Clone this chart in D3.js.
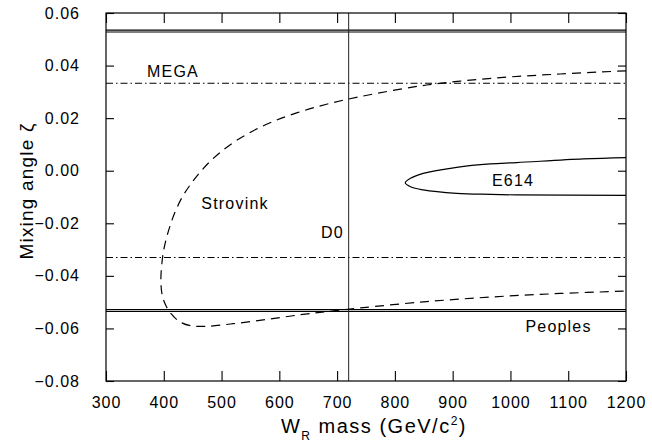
<!DOCTYPE html>
<html lang="en">
	<head>
		<meta charset="utf-8">
		<title>Mixing angle vs W_R mass</title>
		<script type="text/javascript" src="https://cdn.jsdelivr.net/npm/d3@7/dist/d3.min.js"></script>
		<style type="text/css">
			body { margin: 0; background: white; }
			text { font-family: "Liberation Sans", Arial, sans-serif; fill: black; }
		</style>
	</head>
	<body>
		<script type="text/javascript">

			//Data
			var xTicks = [300, 400, 500, 600, 700, 800, 900, 1000, 1100, 1200];
			var yTicks = [0.06, 0.04, 0.02, 0.00, -0.02, -0.04, -0.06, -0.08];

			//Strovink (dashed contour)
			var strovinkMass = [1200, 1086, 970, 855, 740, 680, 630, 590, 555, 525, 500, 480, 463, 447, 432, 419, 408, 400, 396, 395, 397, 403, 413, 428, 447, 474, 520, 578, 636, 682, 740, 855, 970, 1086, 1200];
			var strovinkZeta = [0.0380, 0.0368, 0.0352, 0.0326, 0.0282, 0.0252, 0.0220, 0.0188, 0.0152, 0.0114, 0.0074, 0.0035, -0.0005, -0.0050, -0.0100, -0.0160, -0.0230, -0.0300, -0.0370, -0.0420, -0.0470, -0.0510, -0.0545, -0.0575, -0.0590, -0.0592, -0.0582, -0.0566, -0.0548, -0.0536, -0.0522, -0.0498, -0.0480, -0.0467, -0.0458];

			//E614 (solid contour)
			var e614Mass = [1200, 1126, 1011, 965, 907, 849, 827, 818, 827, 849, 907, 965, 1011, 1200];
			var e614Zeta = [0.0050, 0.0045, 0.0031, 0.0026, 0.0013, -0.0010, -0.0029, -0.0046, -0.0061, -0.0073, -0.0086, -0.0090, -0.0092, -0.0094];

			//horizontal limits
			var megaZeta = [0.0333, -0.0330];
			var peoplesZeta = [0.0528, 0.0535, -0.0528, -0.0535];
			var d0Mass = 720;

			//labels
			var labels = [
				{text: "MEGA", mass: 371, zeta: 0.0358},
				{text: "Strovink", mass: 465, zeta: -0.0146},
				{text: "D0", mass: 672, zeta: -0.0256},
				{text: "E614", mass: 968, zeta: -0.0058},
				{text: "Peoples", mass: 1026, zeta: -0.0612}
			];

			//Width and height
			var w = 652;
			var h = 445;
			var margin = {left: 106, top: 13, right: 26, bottom: 64};
			var pw = w - margin.left - margin.right;
			var ph = h - margin.top - margin.bottom;

			//Scales
			var x = d3.scaleLinear().domain([300, 1200]).range([0, pw]);
			var y = d3.scaleLinear().domain([-0.08, 0.06]).range([ph, 0]);

			//Create SVG element
			var svg = d3.select("body")
						.append("svg")
						.attr("width", w)
						.attr("height", h);

			var g = svg.append("g")
						.attr("transform", "translate(" + margin.left + "," + margin.top + ")");

			g.append("clipPath")
				.attr("id", "clip")
				.append("rect")
				.attr("width", pw)
				.attr("height", ph);

			var plot = g.append("g").attr("clip-path", "url(#clip)");

			//Peoples lines
			plot.selectAll(".peoples")
				.data(peoplesZeta)
				.enter()
				.append("line")
				.attr("class", "peoples")
				.attr("x1", 0)
				.attr("x2", pw)
				.attr("y1", function(d) { return y(d); })
				.attr("y2", function(d) { return y(d); })
				.attr("stroke", "black")
				.attr("stroke-width", 1.1);

			//MEGA lines
			plot.selectAll(".mega")
				.data(megaZeta)
				.enter()
				.append("line")
				.attr("class", "mega")
				.attr("x1", 0)
				.attr("x2", pw)
				.attr("y1", function(d) { return y(d); })
				.attr("y2", function(d) { return y(d); })
				.attr("stroke", "black")
				.attr("stroke-width", 1.1)
				.attr("stroke-dasharray", "7,3,1.5,3");

			//D0 line
			plot.append("line")
				.attr("x1", x(d0Mass))
				.attr("x2", x(d0Mass))
				.attr("y1", 0)
				.attr("y2", ph)
				.attr("stroke", "#222")
				.attr("stroke-width", 1);

			//contours
			var line = d3.line()
						.x(function(d) { return x(d[0]); })
						.y(function(d) { return y(d[1]); })
						.curve(d3.curveCatmullRom);

			plot.append("path")
				.attr("d", line(d3.zip(strovinkMass, strovinkZeta)))
				.attr("fill", "none")
				.attr("stroke", "black")
				.attr("stroke-width", 1.2)
				.attr("stroke-dasharray", "9,6");

			plot.append("path")
				.attr("d", line(d3.zip(e614Mass, e614Zeta)))
				.attr("fill", "none")
				.attr("stroke", "black")
				.attr("stroke-width", 1.2);

			//frame
			g.append("rect")
				.attr("width", pw)
				.attr("height", ph)
				.attr("fill", "none")
				.attr("stroke", "black")
				.attr("stroke-width", 1.2);

			//ticks, inside on all four sides
			var xAxisB = d3.axisBottom(x).tickValues(xTicks).tickSizeInner(-10).tickSizeOuter(0).tickPadding(16).tickFormat(d3.format("d"));
			var xAxisT = d3.axisTop(x).tickValues(xTicks).tickSizeInner(-10).tickSizeOuter(0).tickFormat("");
			var yAxisL = d3.axisLeft(y).tickValues(yTicks).tickSizeInner(-8).tickSizeOuter(0).tickPadding(26).tickFormat(function(d) { return d3.format(".2f")(d).replace("-", "\u2212"); });
			var yAxisR = d3.axisRight(y).tickValues(yTicks).tickSizeInner(-8).tickSizeOuter(0).tickFormat("");

			g.append("g").attr("transform", "translate(0," + ph + ")").call(xAxisB);
			g.append("g").call(xAxisT);
			g.append("g").call(yAxisL);
			g.append("g").attr("transform", "translate(" + pw + ",0)").call(yAxisR);

			g.selectAll(".domain").remove();
			g.selectAll(".tick line").attr("stroke", "black").attr("stroke-width", 1.1);
			g.selectAll(".tick text")
				.attr("font-family", "Liberation Sans, Arial, sans-serif")
				.attr("font-size", 16)
				.attr("letter-spacing", 1)
				.attr("fill", "black");

			//curve labels
			g.selectAll(".lab")
				.data(labels)
				.enter()
				.append("text")
				.attr("class", "lab")
				.attr("x", function(d) { return x(d.mass); })
				.attr("y", function(d) { return y(d.zeta); })
				.attr("font-size", 16)
				.attr("letter-spacing", 1.2)
				.text(function(d) { return d.text; });

			//axis titles
			var xt = svg.append("text")
				.attr("x", margin.left + pw / 2 + 8)
				.attr("y", 433)
				.attr("text-anchor", "middle")
				.attr("font-size", 20)
				.attr("letter-spacing", 1.5);
			xt.append("tspan").text("W");
			xt.append("tspan").attr("font-size", 12).attr("dy", 7).text("R");
			xt.append("tspan").attr("dy", -7).text(" mass (GeV/c");
			xt.append("tspan").attr("font-size", 12).attr("dy", -8).text("2");
			xt.append("tspan").attr("dy", 8).text(")");

			svg.append("text")
				.attr("transform", "translate(33," + (margin.top + ph / 2 - 6) + ") rotate(-90)")
				.attr("text-anchor", "middle")
				.attr("font-size", 19)
				.attr("letter-spacing", 1.2)
				.text("Mixing angle \u03B6");

		</script>
	</body>
</html>
